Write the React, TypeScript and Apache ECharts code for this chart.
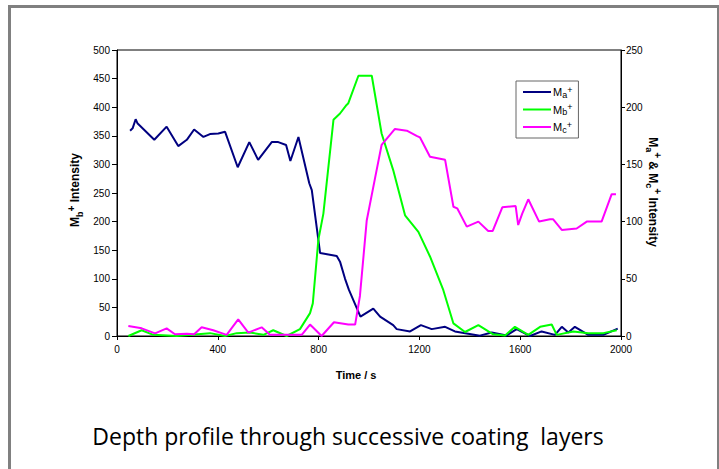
import React, { useEffect, useRef } from "react";
import * as echarts from "echarts";

const xTicks = [0, 400, 800, 1200, 1600, 2000];

// Ma+ (right axis)
const maTime = [52, 62, 74, 81, 148, 197, 243, 277, 306, 343, 369, 402, 429, 479, 525, 560, 614, 640, 671, 688, 720, 763, 773, 806, 872, 885, 905, 920, 966, 1017, 1044, 1096, 1110, 1163, 1206, 1249, 1302, 1341, 1440, 1487, 1546, 1586, 1639, 1685, 1738, 1765, 1791, 1817, 1870, 1930, 1987];
const maValue = [179.5, 181.5, 189.5, 186, 171.5, 183, 166, 171.5, 180.5, 174, 176.5, 177, 178.5, 147.5, 169.5, 154, 169.5, 169.5, 167, 153, 174, 133.5, 127.5, 72.5, 70, 65, 50, 40.5, 17, 24, 17, 9.5, 6, 4, 9.5, 6, 8, 4, 0.3, 3, 0.5, 6, 0, 4, 1, 8, 3, 8, 1, 1, 6.5];

// Mb+ (left axis)
const mbTime = [45, 98, 144, 237, 369, 429, 475, 528, 581, 620, 673, 726, 766, 777, 799, 819, 859, 885, 911, 918, 958, 1011, 1050, 1096, 1143, 1196, 1242, 1295, 1335, 1381, 1434, 1493, 1540, 1579, 1632, 1679, 1725, 1745, 1811, 1870, 1930, 1983];
const mbValue = [0, 10, 2, 0, 5, 0, 5, 6, 2, 10, 0, 12, 40, 57, 168, 214, 378, 389, 404, 407, 455, 455, 354, 290, 211, 182, 139, 80, 22, 7, 19, 3, 1, 16, 2, 16, 20, 2, 8, 5, 5, 10];

// Mc+ (right axis)
const mcTime = [45, 98, 151, 197, 230, 277, 306, 336, 382, 435, 481, 521, 574, 607, 733, 766, 812, 861, 918, 945, 964, 991, 1024, 1050, 1103, 1150, 1189, 1202, 1242, 1302, 1335, 1350, 1388, 1434, 1473, 1491, 1529, 1582, 1592, 1608, 1632, 1675, 1718, 1731, 1765, 1824, 1864, 1923, 1963, 1980];
const mcValue = [8.7, 6.7, 2.3, 6.7, 1.5, 2, 1.5, 7.6, 5, 1, 14.6, 3, 7.6, 1, 1, 10, 0, 12, 10, 10, 35, 101, 138, 167, 181, 179.5, 175, 173.7, 156.7, 154, 113, 111.6, 95.6, 100, 91.8, 91.8, 112.5, 113.6, 97, 107, 119.5, 100, 102, 102, 92.7, 94, 100, 100, 124, 124];

const pairs = (t: number[], v: number[]) => t.map((x, i) => [x, v[i]]);

const AX = "Arial";

const subRich = {
  m: { fontSize: 12, fontWeight: "bold", fontFamily: AX, lineHeight: 18, verticalAlign: "middle", fill: "#000", color: "#000" },
  sub: { fontSize: 9, fontWeight: "bold", fontFamily: AX, lineHeight: 9, verticalAlign: "bottom", fill: "#000", color: "#000" },
  sup: { fontSize: 10, fontWeight: "bold", fontFamily: AX, lineHeight: 10, verticalAlign: "top", fill: "#000", color: "#000" },
};

const legRich = {
  m: { fontSize: 11, fontFamily: AX, lineHeight: 14, verticalAlign: "middle", color: "#000" },
  sub: { fontSize: 9, fontFamily: AX, lineHeight: 8, verticalAlign: "bottom", color: "#000" },
  sup: { fontSize: 9, fontFamily: AX, lineHeight: 8, verticalAlign: "top", color: "#000" },
};

export default function App() {
  const ref = useRef<HTMLDivElement>(null);
  useEffect(() => {
    if (!ref.current) return;
    const chart = echarts.init(ref.current, null, { renderer: "svg" });
    const labelStyle = { fontSize: 10, color: "#000", fontFamily: AX, formatter: (v: number) => String(v) };
    chart.setOption({
      animation: false,
      backgroundColor: "#fff",
      grid: { left: 117, right: 98, top: 50, bottom: 133, show: true, borderColor: "#000", borderWidth: 1, backgroundColor: "transparent" },
      legend: {
        orient: "vertical",
        left: 516,
        top: 81,
        padding: [4, 6, 4, 7],
        itemGap: 3.5,
        itemWidth: 28,
        itemHeight: 2,
        icon: "rect",
        backgroundColor: "#fff",
        borderColor: "#666",
        borderWidth: 1,
        data: ["Ma", "Mb", "Mc"],
        formatter: (n: string) => `{m|M}{sub|${n.slice(1)}}{sup|+}`,
        textStyle: { rich: legRich, padding: [0, 0, 0, -3] },
      },
      xAxis: {
        type: "value",
        min: 0,
        max: 2000,
        interval: 400,
        axisLine: { lineStyle: { color: "#000", width: 1 } },
        axisTick: { show: true, length: 4, lineStyle: { color: "#000" } },
        axisLabel: { ...labelStyle, margin: 8, customValues: xTicks },
        splitLine: { show: false },
      },
      yAxis: [
        {
          type: "value",
          min: 0,
          max: 500,
          interval: 50,
          position: "left",
          axisLine: { show: true, lineStyle: { color: "#000", width: 1 } },
          axisTick: { show: true, length: 5, lineStyle: { color: "#000" } },
          axisLabel: { ...labelStyle, margin: 7 },
          splitLine: { show: false },
        },
        {
          type: "value",
          min: 0,
          max: 250,
          interval: 50,
          position: "right",
          axisLine: { show: true, lineStyle: { color: "#000", width: 1 } },
          axisTick: { show: true, length: 4, lineStyle: { color: "#000" } },
          axisLabel: { ...labelStyle, margin: 5 },
          splitLine: { show: false },
        },
      ],
      series: [
        { name: "Ma", type: "line", yAxisIndex: 1, data: pairs(maTime, maValue), showSymbol: false, symbol: "none", color: "#000080", lineStyle: { width: 2, color: "#000080" } },
        { name: "Mb", type: "line", yAxisIndex: 0, data: pairs(mbTime, mbValue), showSymbol: false, symbol: "none", color: "#00ff00", lineStyle: { width: 2, color: "#00ff00" } },
        { name: "Mc", type: "line", yAxisIndex: 1, data: pairs(mcTime, mcValue), showSymbol: false, symbol: "none", color: "#ff00ff", lineStyle: { width: 2, color: "#ff00ff" } },
      ],
      graphic: [
        { type: "rect", shape: { x: 8, y: 5, width: 3, height: 464 }, style: { fill: "#808080" } },
        { type: "rect", shape: { x: 8, y: 5, width: 711, height: 3 }, style: { fill: "#808080" } },
        { type: "rect", shape: { x: 717, y: 5, width: 2, height: 464 }, style: { fill: "#808080" } },
        {
          type: "text",
          x: 75,
          y: 190,
          rotation: Math.PI / 2,
          style: { text: "{m|M}{sub|b}{sup|+}{m| Intensity}", rich: subRich, align: "center", verticalAlign: "middle", fill: "#000" },
        },
        {
          type: "text",
          x: 653,
          y: 192,
          rotation: -Math.PI / 2,
          style: { text: "{m|M}{sub|a}{sup|+}{m| & M}{sub|c}{sup|+}{m| Intensity}", rich: subRich, align: "center", verticalAlign: "middle", fill: "#000" },
        },
        {
          type: "text",
          x: 356,
          y: 375,
          style: { text: "Time / s", fontSize: 11, fontWeight: "bold", fontFamily: AX, align: "center", verticalAlign: "middle", fill: "#000" },
        },
        {
          type: "text",
          x: 348,
          y: 436,
          style: { text: "Depth profile through successive coating  layers", fontSize: 23, fontFamily: "Open Sans", align: "center", verticalAlign: "middle", fill: "#000" },
        },
      ],
    });
    return () => chart.dispose();
  }, []);
  return <div ref={ref} style={{ position: "absolute", left: 0, top: 0, width: 719, height: 469 }} />;
}
